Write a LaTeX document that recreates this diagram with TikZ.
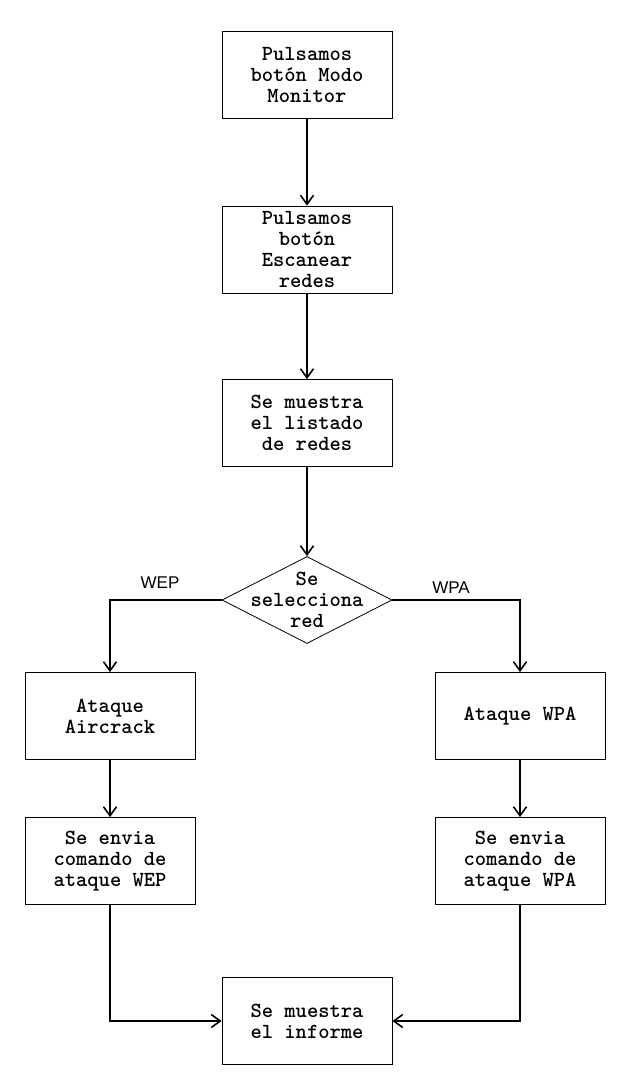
\documentclass[tikz,border=0pt]{standalone}
\usepackage{fontspec}
\setmainfont{Liberation Sans}
\usetikzlibrary{shapes.geometric,arrows.meta}
\begin{document}
\begin{tikzpicture}[x=1pt, y=-1pt,
  box/.style={draw, line width=0.8pt, minimum width=170pt, minimum height=87pt, inner sep=0pt, align=center, font=\ttfamily\bfseries\fontsize{21.5}{21}\selectfont},
  choice/.style={draw, diamond, line width=0.8pt, minimum width=170pt, minimum height=87pt, inner sep=0pt},
  txt/.style={align=center, inner sep=0pt, font=\ttfamily\bfseries\fontsize{21.5}{21}\selectfont},
  lbl/.style={inner sep=0pt, font=\fontsize{17}{20}\selectfont},
  flow/.style={line width=1.8pt, -{Straight Barb[length=9pt,width=13pt,line width=1.6pt]}}]
\useasboundingbox (0,0) rectangle (634,1090);
\node[box] (monitor) at (307,74.5){Pulsamos\\botón Modo\\Monitor};
\node[box] (scan) at (307,249.5){Pulsamos\\botón\\Escanear\\redes};
\node[box] (list) at (307,423){Se muestra\\el listado\\de redes};
\node[choice] (sel) at (307,600){};
\node[txt] (seltxt) at (sel){Se\\selecciona\\red};
\node[box] (aircrack) at (110,716){Ataque\\Aircrack};
\node[box] (wpa) at (520,716){Ataque WPA};
\node[box] (sendwep) at (110,861){Se envia\\comando de\\ataque WEP};
\node[box] (sendwpa) at (520,861){Se envia\\comando de\\ataque WPA};
\node[box] (report) at (307,1021){Se muestra\\el informe};
\node[lbl] (weplbl) at (160,583){WEP};
\node[lbl] (wpalbl) at (451,588){WPA};
\draw[flow] (monitor) -- (scan);
\draw[flow] (scan) -- (list);
\draw[flow] (list) -- (sel);
\draw[flow] (sel.west) -| (aircrack.north);
\draw[flow] (sel.east) -| (wpa.north);
\draw[flow] (aircrack) -- (sendwep);
\draw[flow] (wpa) -- (sendwpa);
\draw[flow] (sendwep.south) |- (report.west);
\draw[flow] (sendwpa.south) |- (report.east);
\end{tikzpicture}
\end{document}
